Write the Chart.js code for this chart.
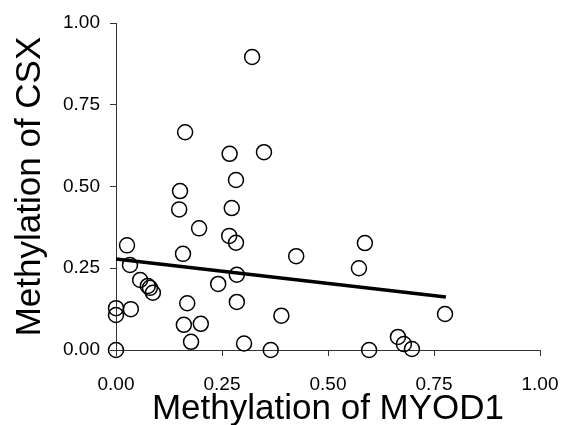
<!DOCTYPE html>
<html>
<head>
<meta charset="utf-8">
<script src="https://cdn.jsdelivr.net/npm/chart.js@4"></script>
<style>
  html, body { margin: 0; padding: 0; background: #fff; }
  #wrap { width: 570px; height: 425px; }
</style>
</head>
<body>
<div id="wrap"><canvas id="chart" width="570" height="425"></canvas></div>
<script>
// methylation of MYOD1 (x) vs CSX (y), one value per sample
const myod1 = [0.00, 0.00, 0.00, 0.026, 0.033, 0.035, 0.057, 0.075, 0.080, 0.087,
               0.149, 0.151, 0.158, 0.160, 0.163, 0.168, 0.177, 0.196, 0.200, 0.241,
               0.267, 0.268, 0.273, 0.283, 0.283, 0.285, 0.285, 0.302, 0.321, 0.349,
               0.365, 0.390, 0.425, 0.573, 0.587, 0.597, 0.665, 0.679, 0.698, 0.776];
const csx   = [0.00, 0.128, 0.107, 0.32, 0.26, 0.125, 0.214, 0.196, 0.19, 0.175,
               0.43, 0.486, 0.294, 0.077, 0.666, 0.143, 0.025, 0.372, 0.08, 0.202,
               0.349, 0.60, 0.434, 0.52, 0.328, 0.23, 0.147, 0.02, 0.896, 0.605,
               0.00, 0.105, 0.287, 0.25, 0.327, 0.00, 0.04, 0.018, 0.003, 0.11];

// fitted line end points
const fitX = [0.00, 0.778];
const fitY = [0.278, 0.162];

const axisTicks = [0, 0.25, 0.5, 0.75, 1];

const FONT = "'Liberation Sans', Arial, Helvetica, sans-serif";

function toPoints(xs, ys) {
    return xs.map((x, i) => ({ x: x, y: ys[i] }));
}

const ctx = document.getElementById('chart').getContext('2d');
new Chart(ctx, {
    type: 'scatter',
    data: {
        datasets: [
            {
                label: 'samples',
                data: toPoints(myod1, csx),
                pointStyle: 'circle',
                pointRadius: 7.5,
                pointHoverRadius: 7.5,
                backgroundColor: 'rgba(0,0,0,0)',
                borderColor: '#000',
                borderWidth: 1.5,
                clip: false,
            },
            {
                type: 'line',
                label: 'fit',
                data: toPoints(fitX, fitY),
                borderColor: '#000',
                borderWidth: 3.5,
                pointRadius: 0,
                fill: false,
                clip: false,
            },
        ],
    },
    options: {
        responsive: false,
        animation: false,
        events: [],
        layout: {
            padding: { left: 0, top: 23, right: 30, bottom: 0 },
        },
        plugins: {
            legend: { display: false },
            tooltip: { enabled: false },
        },
        scales: {
            x: {
                type: 'linear',
                min: 0,
                max: 1,
                // fixed axis box; the layout padding handles the label overhang
                afterFit: (s) => { s.height = 75; s.paddingLeft = 0; s.paddingRight = 0; },
                afterBuildTicks: (s) => { s.ticks = axisTicks.map(v => ({ value: v })); },
                border: { display: true, color: '#333', width: 1 },
                grid: { drawOnChartArea: false, drawTicks: true, tickLength: 6, color: '#333' },
                ticks: {
                    color: '#000',
                    padding: 17,
                    maxRotation: 0,
                    font: { family: FONT, size: 19 },
                    callback: (v) => Number(v).toFixed(2),
                },
                title: {
                    display: true,
                    text: 'Methylation of MYOD1',
                    color: '#000',
                    font: { family: FONT, size: 35, lineHeight: 0.9 },
                    padding: { top: 0, bottom: 0 },
                },
            },
            y: {
                type: 'linear',
                min: 0,
                max: 1,
                afterFit: (s) => { s.width = 116; },
                afterBuildTicks: (s) => { s.ticks = axisTicks.map(v => ({ value: v })); },
                border: { display: true, color: '#333', width: 1 },
                grid: { drawOnChartArea: false, drawTicks: true, tickLength: 6, color: '#333' },
                ticks: {
                    color: '#000',
                    padding: 10,
                    font: { family: FONT, size: 19 },
                    callback: (v) => Number(v).toFixed(2),
                },
                title: {
                    display: true,
                    text: 'Methylation of CSX',
                    color: '#000',
                    font: { family: FONT, size: 35, lineHeight: 1 },
                    padding: { top: 13, bottom: 0 },
                },
            },
        },
    },
});
</script>
</body>
</html>
